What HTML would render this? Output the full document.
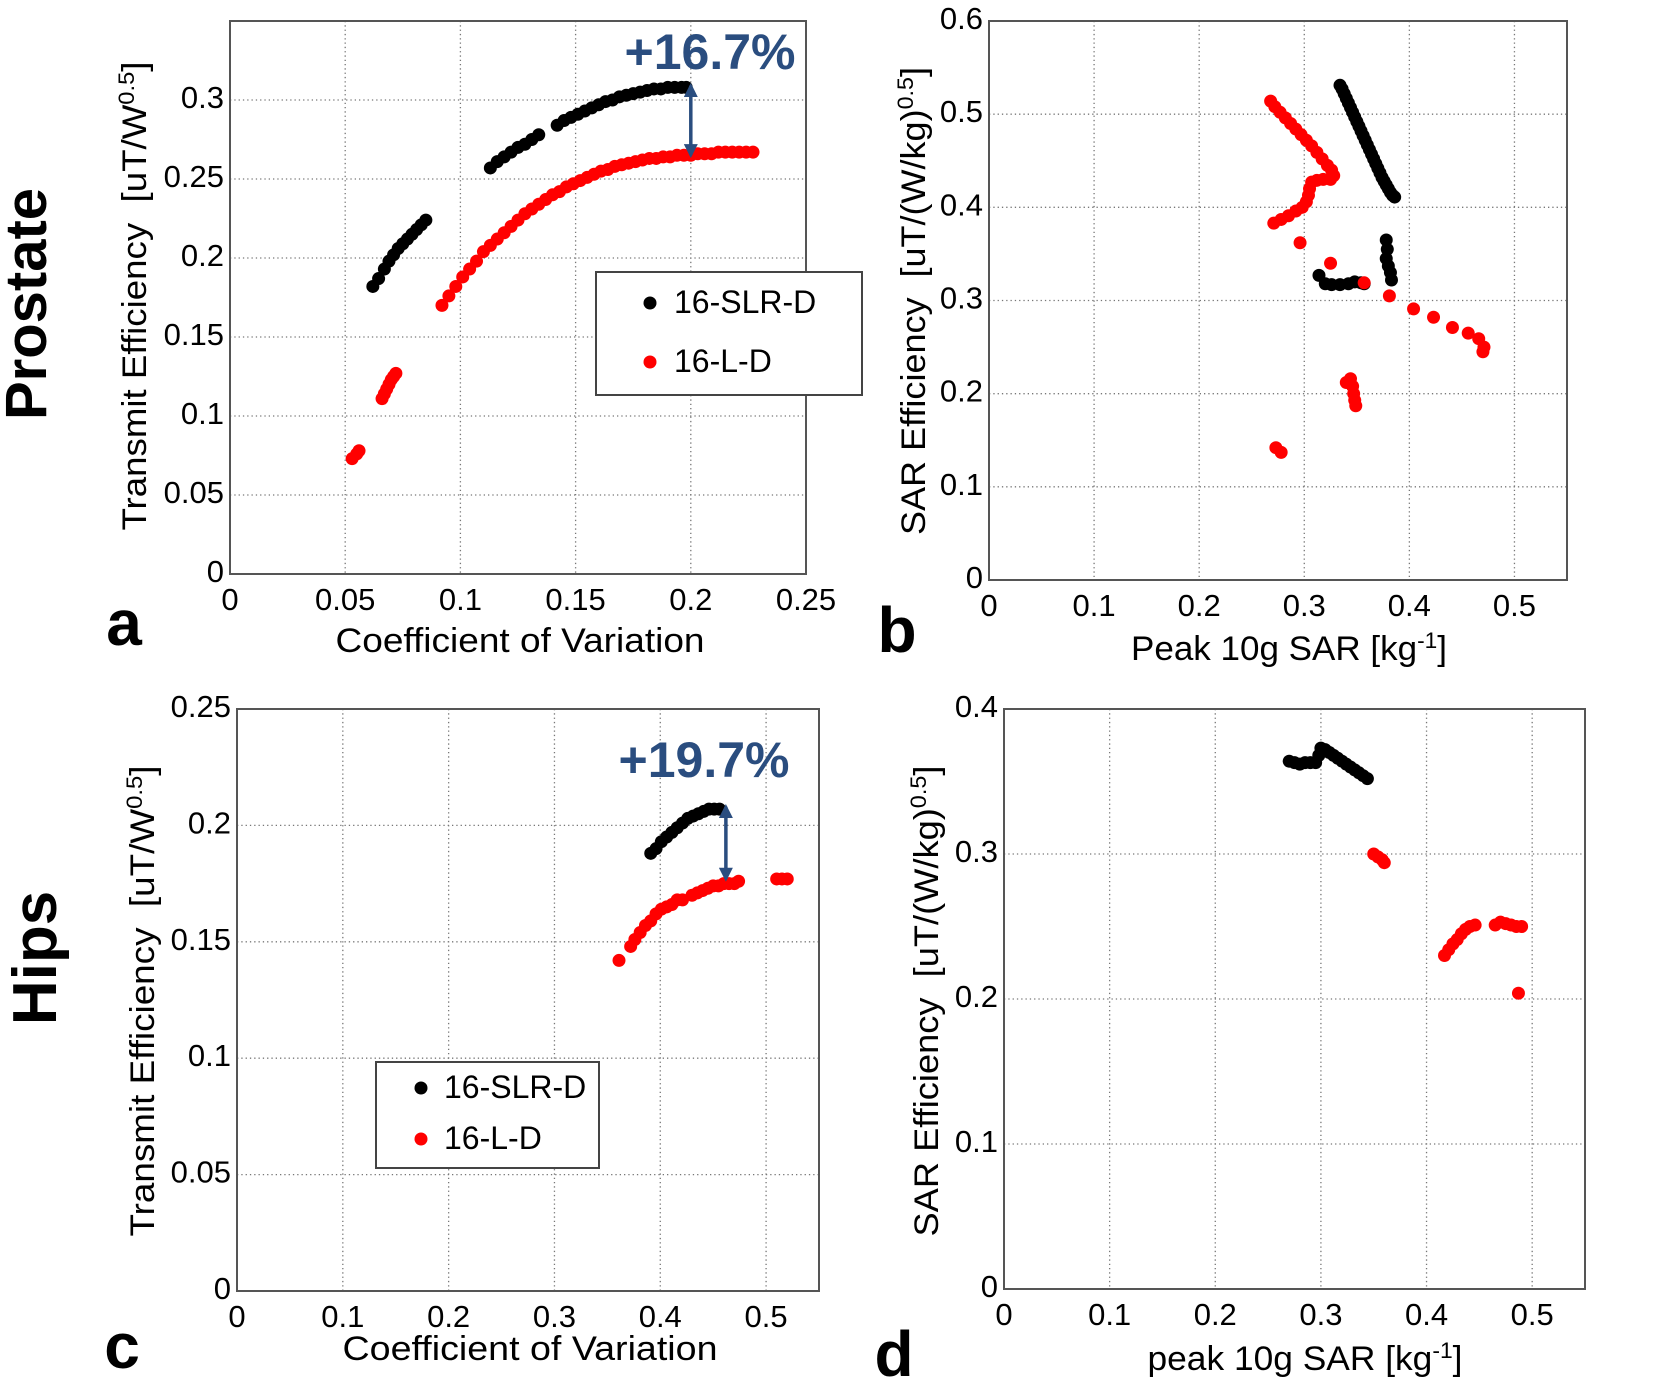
<!DOCTYPE html>
<html><head><meta charset="utf-8"><style>
html,body{margin:0;padding:0;background:#fff;}
svg{display:block;font-family:"Liberation Sans",Arial,sans-serif;}
</style></head><body>
<svg id="fig" width="1676" height="1388" viewBox="0 0 1676 1388" xmlns="http://www.w3.org/2000/svg">
<defs>
<marker id="ah" viewBox="0 0 10 10" refX="8" refY="5" markerWidth="4" markerHeight="4" orient="auto-start-reverse"><path d="M0,0 L10,5 L0,10 z" fill="#2a4d7f"/></marker>
</defs>
<text x="0" y="0" transform="translate(46,304) rotate(-90)" text-anchor="middle" font-weight="bold" font-size="58">Prostate</text>
<text x="0" y="0" transform="translate(56,958) rotate(-90)" text-anchor="middle" font-weight="bold" font-size="62">Hips</text>
</svg>
<script>
// Panel a data
const aBlackX=[0.062,0.0645,0.067,0.069,0.071,0.073,0.075,0.077,0.079,0.081,0.083,0.085,0.113,0.116,0.119,0.122,0.125,0.128,0.131,0.134,0.142,0.145,0.148,0.151,0.154,0.157,0.160,0.163,0.166,0.169,0.172,0.175,0.178,0.181,0.184,0.187,0.190,0.193,0.196,0.198];
const aBlackY=[0.182,0.187,0.193,0.198,0.202,0.206,0.209,0.212,0.215,0.218,0.221,0.224,0.257,0.261,0.264,0.267,0.270,0.272,0.275,0.278,0.284,0.287,0.289,0.291,0.293,0.295,0.297,0.299,0.300,0.302,0.303,0.304,0.305,0.306,0.307,0.307,0.308,0.308,0.308,0.308];
const aRedX=[0.053,0.055,0.056,0.066,0.067,0.068,0.069,0.070,0.071,0.072,0.092,0.095,0.098,0.101,0.104,0.107,0.110,0.113,0.116,0.119,0.122,0.125,0.128,0.131,0.134,0.137,0.140,0.143,0.146,0.149,0.152,0.155,0.158,0.161,0.164,0.167,0.170,0.173,0.176,0.179,0.182,0.185,0.188,0.191,0.194,0.197,0.200,0.203,0.206,0.209,0.212,0.215,0.218,0.221,0.224,0.227];
const aRedY=[0.073,0.076,0.078,0.111,0.114,0.117,0.120,0.123,0.125,0.127,0.170,0.176,0.182,0.188,0.193,0.198,0.204,0.208,0.212,0.216,0.220,0.224,0.228,0.231,0.234,0.237,0.240,0.242,0.245,0.247,0.249,0.251,0.253,0.255,0.256,0.258,0.259,0.260,0.261,0.262,0.263,0.263,0.264,0.264,0.265,0.265,0.265,0.266,0.266,0.266,0.267,0.267,0.267,0.267,0.267,0.267];
const aXTicks=[0,0.05,0.1,0.15,0.2,0.25];
const aXLabels=["0","0.05","0.1","0.15","0.2","0.25"];
const aYTicks=[0,0.05,0.1,0.15,0.2,0.25,0.3];
const aYLabels=["0","0.05","0.1","0.15","0.2","0.25","0.3"];
// Panel b data
const bBlackX=[0.334,0.336,0.338,0.340,0.342,0.344,0.346,0.348,0.350,0.352,0.354,0.356,0.358,0.360,0.362,0.364,0.366,0.368,0.370,0.372,0.374,0.376,0.378,0.380,0.382,0.384,0.386,0.378,0.379,0.378,0.380,0.382,0.383,0.314,0.320,0.326,0.334,0.342,0.348,0.354,0.357];
const bBlackY=[0.531,0.527,0.522,0.517,0.512,0.507,0.502,0.497,0.492,0.487,0.482,0.477,0.472,0.467,0.462,0.457,0.452,0.447,0.442,0.437,0.432,0.428,0.424,0.420,0.416,0.413,0.411,0.365,0.355,0.345,0.337,0.330,0.322,0.327,0.318,0.317,0.317,0.318,0.320,0.319,0.318];
const bRedX=[0.268,0.272,0.277,0.282,0.287,0.292,0.297,0.302,0.307,0.312,0.317,0.322,0.326,0.328,0.325,0.318,0.312,0.307,0.305,0.304,0.302,0.298,0.292,0.285,0.278,0.271,0.296,0.325,0.357,0.381,0.404,0.423,0.441,0.456,0.466,0.471,0.470,0.340,0.344,0.346,0.347,0.348,0.349,0.273,0.278];
const bRedY=[0.514,0.508,0.502,0.496,0.490,0.484,0.478,0.472,0.466,0.459,0.452,0.445,0.440,0.434,0.430,0.430,0.429,0.427,0.420,0.413,0.406,0.400,0.396,0.391,0.387,0.383,0.362,0.340,0.319,0.305,0.291,0.282,0.271,0.265,0.259,0.250,0.245,0.212,0.216,0.208,0.200,0.193,0.187,0.142,0.137];
const bXTicks=[0,0.1,0.2,0.3,0.4,0.5];
const bXLabels=["0","0.1","0.2","0.3","0.4","0.5"];
const bYTicks=[0,0.1,0.2,0.3,0.4,0.5,0.6];
const bYLabels=["0","0.1","0.2","0.3","0.4","0.5","0.6"];
// Panel c data
const cBlackX=[0.391,0.396,0.401,0.406,0.411,0.416,0.421,0.426,0.431,0.436,0.441,0.446,0.451,0.456];
const cBlackY=[0.188,0.190,0.193,0.195,0.197,0.199,0.201,0.203,0.204,0.205,0.206,0.207,0.207,0.207];
const cRedX=[0.361,0.372,0.376,0.381,0.386,0.391,0.396,0.401,0.406,0.411,0.416,0.421,0.430,0.435,0.440,0.445,0.450,0.455,0.460,0.465,0.470,0.474,0.510,0.515,0.520];
const cRedY=[0.142,0.148,0.151,0.154,0.157,0.159,0.162,0.164,0.165,0.166,0.168,0.168,0.170,0.171,0.172,0.173,0.174,0.174,0.175,0.175,0.175,0.176,0.177,0.177,0.177];
const cXTicks=[0,0.1,0.2,0.3,0.4,0.5];
const cXLabels=["0","0.1","0.2","0.3","0.4","0.5"];
const cYTicks=[0,0.05,0.1,0.15,0.2,0.25];
const cYLabels=["0","0.05","0.1","0.15","0.2","0.25"];
// Panel d data
const dBlackX=[0.270,0.275,0.280,0.285,0.290,0.295,0.298,0.300,0.304,0.308,0.312,0.316,0.320,0.324,0.328,0.332,0.336,0.340,0.344];
const dBlackY=[0.364,0.363,0.362,0.363,0.363,0.363,0.368,0.373,0.372,0.370,0.368,0.366,0.364,0.362,0.360,0.358,0.356,0.354,0.352];
const dRedX=[0.350,0.354,0.358,0.360,0.417,0.421,0.425,0.429,0.433,0.437,0.441,0.446,0.465,0.470,0.475,0.480,0.485,0.490,0.487];
const dRedY=[0.300,0.298,0.296,0.294,0.230,0.234,0.238,0.241,0.245,0.248,0.250,0.251,0.251,0.253,0.252,0.251,0.250,0.250,0.204];
const dXTicks=[0,0.1,0.2,0.3,0.4,0.5];
const dXLabels=["0","0.1","0.2","0.3","0.4","0.5"];
const dYTicks=[0,0.1,0.2,0.3,0.4];
const dYLabels=["0","0.1","0.2","0.3","0.4"];

const NS="http://www.w3.org/2000/svg";
const svg=document.getElementById('fig');
function mk(tag,attrs,parent){const e=document.createElementNS(NS,tag);for(const k in attrs)e.setAttribute(k,attrs[k]);(parent||svg).appendChild(e);return e;}

function panel(id,box,xmax,ymax,xt,xl,yt,yl,series,xTickY){
  const g=mk('g',{});
  
  
  const sx=v=>box.l+v/xmax*(box.r-box.l);
  const sy=v=>box.b-v/ymax*(box.b-box.t);
  xt.forEach((v,i)=>{
    const x=sx(v);
    if(v>0&&x<box.r-2){const gl=mk('line',{x1:x,y1:box.t,x2:x,y2:box.b,stroke:'#777','stroke-width':1.3,'stroke-dasharray':'1.3,3'},g);
    
    }
    const t=mk('text',{x:x,y:xTickY,'text-anchor':'middle','font-size':31},g);t.textContent=xl[i];
    
    
  });
  yt.forEach((v,i)=>{
    const y=sy(v);
    if(v>0&&y>box.t+2){const gl=mk('line',{x1:box.l,y1:y,x2:box.r,y2:y,stroke:'#777','stroke-width':1.3,'stroke-dasharray':'1.3,3'},g);
    
    }
    const t=mk('text',{x:box.l-6,y:y+8,'text-anchor':'end','font-size':31},g);t.textContent=yl[i];
    
    
  });
  const fr=mk('rect',{x:box.l,y:box.t,width:box.r-box.l,height:box.b-box.t,fill:'none',stroke:'#555','stroke-width':2},g);
  
  
  series.forEach(s=>{
    s.x.forEach((xv,i)=>{
      const c=mk('circle',{cx:sx(xv),cy:sy(s.y[i]),r:6.5,fill:s.color},g);
      
      
    });
  });
  return {sx,sy,g};
}

const red='#ff0000';
const pa=panel('a',{l:230,r:806,t:21,b:574},0.25,0.35,aXTicks,aXLabels,aYTicks,aYLabels,
  [{x:aBlackX,y:aBlackY,color:'#000',name:'16-slr-d'},{x:aRedX,y:aRedY,color:red,name:'16-l-d'}],610);
const pb=panel('b',{l:989,r:1567,t:21,b:580},0.55,0.6,bXTicks,bXLabels,bYTicks,bYLabels,
  [{x:bBlackX,y:bBlackY,color:'#000',name:'16-slr-d'},{x:bRedX,y:bRedY,color:red,name:'16-l-d'}],616);
const pc=panel('c',{l:237,r:819,t:709,b:1291},0.55,0.25,cXTicks,cXLabels,cYTicks,cYLabels,
  [{x:cBlackX,y:cBlackY,color:'#000',name:'16-slr-d'},{x:cRedX,y:cRedY,color:red,name:'16-l-d'}],1327);
const pd=panel('d',{l:1004,r:1585,t:709,b:1289},0.55,0.4,dXTicks,dXLabels,dYTicks,dYLabels,
  [{x:dBlackX,y:dBlackY,color:'#000',name:'16-slr-d'},{x:dRedX,y:dRedY,color:red,name:'16-l-d'}],1325);

function text(x,y,str,attrs,name){const t=mk('text',Object.assign({x:x,y:y},attrs));t.innerHTML=str;
  
  return t;}
function vtext(cx,cy,str,size,len,name){const t=mk('text',{x:0,y:0,transform:`translate(${cx},${cy}) rotate(-90)`,'text-anchor':'middle','font-size':size,textLength:len,lengthAdjust:'spacingAndGlyphs'});t.innerHTML=str;
  
  return t;}

// axis titles
text(520,652,'Coefficient of Variation',{'text-anchor':'middle','font-size':34,textLength:369,lengthAdjust:'spacingAndGlyphs'},'x-axis-title-a');
vtext(146,296,'Transmit Efficiency&#160;&#160;[uT/W<tspan dy="-12" font-size="22">0.5</tspan><tspan dy="12">]</tspan>',34,469,'y-axis-title-a');
text(1289,660,'Peak 10g SAR [kg<tspan dy="-12" font-size="22">-1</tspan><tspan dy="12">]</tspan>',{'text-anchor':'middle','font-size':34,textLength:316,lengthAdjust:'spacingAndGlyphs'},'x-axis-title-b');
vtext(925,301,'SAR Efficiency&#160;&#160;[uT/(W/kg)<tspan dy="-12" font-size="22">0.5</tspan><tspan dy="12">]</tspan>',34,468,'y-axis-title-b');
text(530,1360,'Coefficient of Variation',{'text-anchor':'middle','font-size':34,textLength:375,lengthAdjust:'spacingAndGlyphs'},'x-axis-title-c');
vtext(154,1001,'Transmit Efficiency&#160;&#160;[uT/W<tspan dy="-12" font-size="22">0.5</tspan><tspan dy="12">]</tspan>',34,471,'y-axis-title-c');
text(1305,1370,'peak 10g SAR [kg<tspan dy="-12" font-size="22">-1</tspan><tspan dy="12">]</tspan>',{'text-anchor':'middle','font-size':34,textLength:315,lengthAdjust:'spacingAndGlyphs'},'x-axis-title-d');
vtext(938,1001,'SAR Efficiency&#160;&#160;[uT/(W/kg)<tspan dy="-12" font-size="22">0.5</tspan><tspan dy="12">]</tspan>',34,471,'y-axis-title-d');

// panel letters
text(124,645,'a',{'text-anchor':'middle','font-size':64,'font-weight':'bold'},'panel-label-a');
text(897,652,'b',{'text-anchor':'middle','font-size':64,'font-weight':'bold'},'panel-label-b');
text(122,1368,'c',{'text-anchor':'middle','font-size':64,'font-weight':'bold'},'panel-label-c');
text(894,1376,'d',{'text-anchor':'middle','font-size':64,'font-weight':'bold'},'panel-label-d');

// annotations
text(710,69,'+16.7%',{'text-anchor':'middle','font-size':50,'font-weight':'bold',fill:'#2a4d7f'},'annotation-16-7');
text(704,777,'+19.7%',{'text-anchor':'middle','font-size':50,'font-weight':'bold',fill:'#2a4d7f'},'annotation-19-7');
const ar1=mk('line',{x1:pa.sx(0.2),y1:pa.sy(0.309),x2:pa.sx(0.2),y2:pa.sy(0.265),stroke:'#2a4d7f','stroke-width':3.5,'marker-start':'url(#ah)','marker-end':'url(#ah)'});


const ar2=mk('line',{x1:pc.sx(0.462),y1:pc.sy(0.208),x2:pc.sx(0.462),y2:pc.sy(0.177),stroke:'#2a4d7f','stroke-width':3.5,'marker-start':'url(#ah)','marker-end':'url(#ah)'});



// legends
function legend(x,y,w,h,m1,m2,tx,name){
  const g=mk('g',{});
  
  
  mk('rect',{x:x,y:y,width:w,height:h,fill:'#fff',stroke:'#444','stroke-width':2},g);
  mk('circle',{cx:m1[0],cy:m1[1],r:6.5,fill:'#000'},g);
  mk('circle',{cx:m2[0],cy:m2[1],r:6.5,fill:red},g);
  const t1=mk('text',{x:tx,y:m1[1]+10,'font-size':32},g);t1.textContent='16-SLR-D';
  
  
  const t2=mk('text',{x:tx,y:m2[1]+10,'font-size':32},g);t2.textContent='16-L-D';
  
  
}
legend(596,272,266,123,[650,303],[650,362],674,'legend-a');
legend(376,1062,223,106,[421,1088],[421,1139],444,'legend-c');
</script>
</body></html>
